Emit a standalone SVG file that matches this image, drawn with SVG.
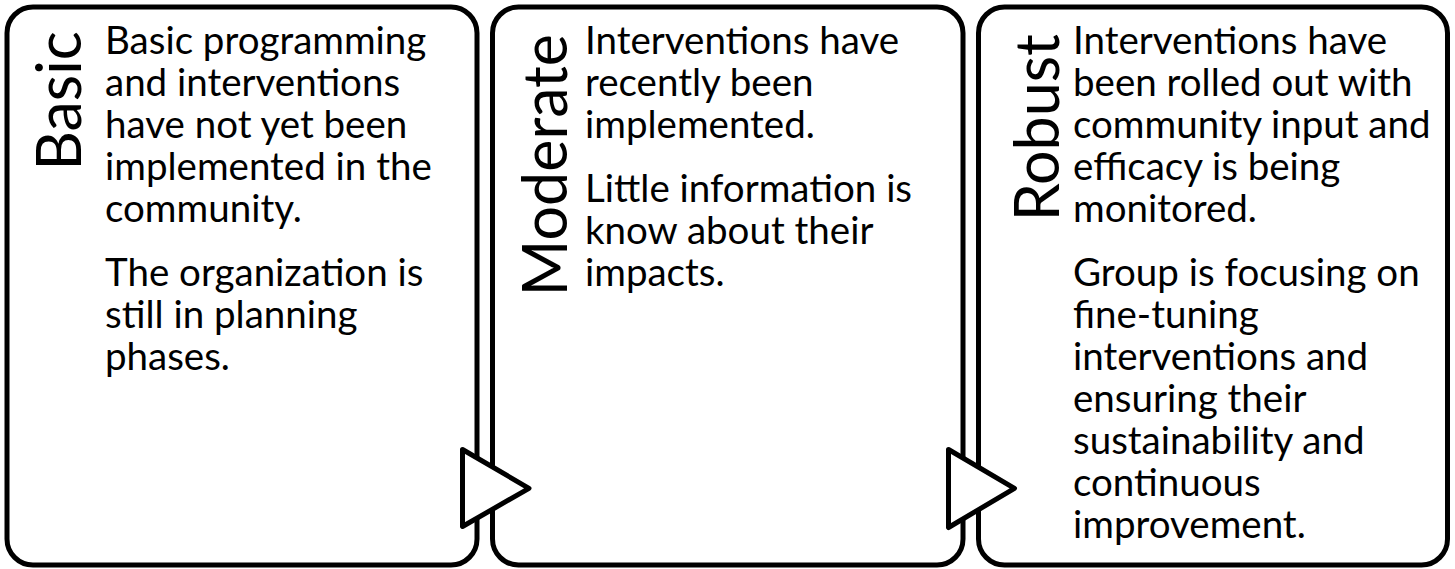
<svg xmlns="http://www.w3.org/2000/svg" width="1455" height="569" viewBox="0 0 1455 569">
<style>
.box{fill:#fff;stroke:#000;stroke-width:5}
.arr{fill:#fff;stroke:#000;stroke-width:5;stroke-linejoin:round}
.title{font-family:Lato,"Liberation Sans",sans-serif;font-size:61px;fill:#000;text-anchor:end}
.body{font-family:Lato,"Liberation Sans",sans-serif;font-size:38.5px;fill:#000}
</style>
<rect width="1455" height="569" fill="#fff"/>
<g id="basic">
<rect class="box" x="7" y="7" width="470" height="558" rx="26" ry="26"/>
<text class="title" transform="translate(81,31) rotate(-90)">Basic</text>
<text class="body">
<tspan x="105" y="54">Basic programming</tspan>
<tspan x="105" y="96">and interventions</tspan>
<tspan x="105" y="138">have not yet been</tspan>
<tspan x="105" y="180">implemented in the</tspan>
<tspan x="105" y="222">community.</tspan>
<tspan x="105" y="286">The organization is</tspan>
<tspan x="105" y="328">still in planning</tspan>
<tspan x="105" y="370">phases.</tspan>
</text>
</g>
<g id="moderate">
<rect class="box" x="492.5" y="7" width="470.5" height="558" rx="26" ry="26"/>
<text class="title" transform="translate(567,34) rotate(-90)">Moderate</text>
<text class="body">
<tspan x="585" y="54">Interventions have</tspan>
<tspan x="585" y="96">recently been</tspan>
<tspan x="585" y="138">implemented.</tspan>
<tspan x="585" y="202">Little information is</tspan>
<tspan x="585" y="244">know about their</tspan>
<tspan x="585" y="286">impacts.</tspan>
</text>
</g>
<g id="robust">
<rect class="box" x="978.5" y="7" width="469" height="558" rx="26" ry="26"/>
<text class="title" transform="translate(1059,34) rotate(-90)">Robust</text>
<text class="body">
<tspan x="1073" y="54">Interventions have</tspan>
<tspan x="1073" y="96">been rolled out with</tspan>
<tspan x="1073" y="138">community input and</tspan>
<tspan x="1073" y="180">efficacy is being</tspan>
<tspan x="1073" y="222">monitored.</tspan>
<tspan x="1073" y="286">Group is focusing on</tspan>
<tspan x="1073" y="328">fine-tuning</tspan>
<tspan x="1073" y="370">interventions and</tspan>
<tspan x="1073" y="412">ensuring their</tspan>
<tspan x="1073" y="454">sustainability and</tspan>
<tspan x="1073" y="496">continuous</tspan>
<tspan x="1073" y="538">improvement.</tspan>
</text>
</g>
<g id="connectors">
<polygon class="arr" points="462.5,449.5 529,488.3 462.5,526.5"/>
<polygon class="arr" points="948.5,449.5 1014.5,488.3 948.5,527.5"/>
</g>
</svg>
